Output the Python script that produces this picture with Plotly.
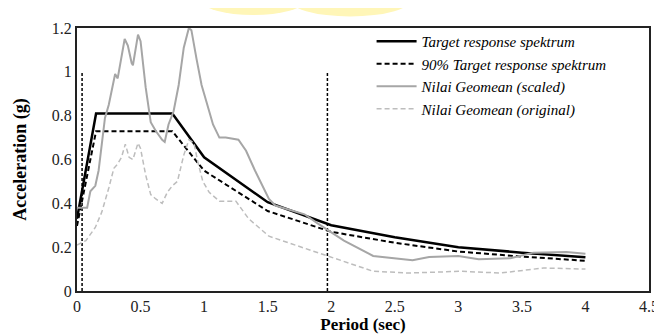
import plotly.graph_objects as go

# Target response spectrum
target_T = [0.0, 0.15, 0.75, 1.0, 1.5, 2.0, 2.5, 3.0, 3.5, 4.0]
target_SA = [0.33, 0.81, 0.81, 0.61, 0.405, 0.30, 0.245, 0.20, 0.175, 0.154]

# 90% target
target90_SA = [0.297, 0.729, 0.729, 0.549, 0.365, 0.27, 0.22, 0.18, 0.157, 0.138]

# Geomean scaled
scaled_T = [0.0, 0.08, 0.105, 0.144, 0.17, 0.22, 0.25, 0.30, 0.32, 0.34, 0.375, 0.40, 0.43, 0.44,
            0.48, 0.50, 0.54, 0.58, 0.62, 0.67, 0.69, 0.72, 0.76, 0.80, 0.84, 0.88, 0.90, 0.94,
            0.98, 1.02, 1.07, 1.12, 1.17, 1.27, 1.33, 1.40, 1.48, 1.51, 1.56, 1.79, 1.89, 1.97,
            2.10, 2.33, 2.64, 2.77, 3.0, 3.16, 3.41, 3.59, 3.85, 4.0]
scaled_SA = [0.38, 0.38, 0.455, 0.48, 0.55, 0.79, 0.85, 0.99, 0.97, 1.03, 1.15, 1.12, 1.04, 1.03,
             1.17, 1.14, 0.93, 0.77, 0.73, 0.69, 0.68, 0.76, 0.82, 0.94, 1.11, 1.20, 1.19, 1.06,
             0.94, 0.86, 0.76, 0.70, 0.70, 0.69, 0.64, 0.55, 0.46, 0.42, 0.39, 0.35, 0.31, 0.28,
             0.23, 0.16, 0.14, 0.155, 0.16, 0.145, 0.15, 0.175, 0.178, 0.17]

# Geomean original
orig_T = [0.0, 0.07, 0.144, 0.195, 0.25, 0.29, 0.32, 0.35, 0.38, 0.41, 0.44, 0.48, 0.50, 0.54,
          0.58, 0.62, 0.67, 0.71, 0.75, 0.79, 0.84, 0.88, 0.92, 0.95, 0.99, 1.04, 1.12, 1.25,
          1.35, 1.51, 1.74, 1.97, 2.33, 2.61, 3.02, 3.33, 3.67, 4.0]
orig_SA = [0.21, 0.23, 0.29, 0.36, 0.47, 0.56, 0.58, 0.61, 0.67, 0.61, 0.60, 0.675, 0.65, 0.53,
           0.44, 0.42, 0.40, 0.45, 0.48, 0.50, 0.62, 0.69, 0.675, 0.59, 0.50, 0.45, 0.41, 0.41,
           0.33, 0.25, 0.205, 0.16, 0.09, 0.082, 0.09, 0.082, 0.105, 0.10]

# Period range markers
range_T = [0.04, 1.97]
range_top = 1.0

x_ticks = [0, 0.5, 1, 1.5, 2, 2.5, 3, 3.5, 4, 4.5]
y_ticks = [0, 0.2, 0.4, 0.6, 0.8, 1.0, 1.2]

FONT = "Times New Roman, Liberation Serif, DejaVu Serif, serif"

fig = go.Figure()

for t in range_T:
    fig.add_trace(go.Scatter(x=[t, t], y=[0, range_top], mode="lines",
                             line=dict(color="black", width=1.5, dash="3px,2px"),
                             showlegend=False, hoverinfo="skip"))

fig.add_trace(go.Scatter(x=target_T, y=target_SA, mode="lines",
                         name="Target response spektrum",
                         line=dict(color="black", width=2.5)))
fig.add_trace(go.Scatter(x=target_T, y=target90_SA, mode="lines",
                         name="90% Target response spektrum",
                         line=dict(color="black", width=2, dash="5px,3px")))
fig.add_trace(go.Scatter(x=scaled_T, y=scaled_SA, mode="lines",
                         name="Nilai Geomean (scaled)",
                         line=dict(color="#a6a6a6", width=2)))
fig.add_trace(go.Scatter(x=orig_T, y=orig_SA, mode="lines",
                         name="Nilai Geomean (original)",
                         line=dict(color="#bdbdbd", width=1.5, dash="5px,3px")))

fig.update_layout(
    width=662, height=334,
    margin=dict(l=68, r=11, t=20, b=51),
    paper_bgcolor="white", plot_bgcolor="white",
    font=dict(family=FONT, size=16, color="black"),
    legend=dict(x=0.515, y=1.011, xanchor="left", yanchor="top",
                bgcolor="rgba(0,0,0,0)", borderwidth=0,
                font=dict(family=FONT, size=15, color="black", style="italic"),
                tracegroupgap=0, itemwidth=40),
    shapes=[
        dict(type="circle", xref="paper", yref="paper", layer="below",
             x0=(195 - 68) / 583, x1=(300 - 68) / 583,
             y0=(283 + 22) / 263, y1=(283 - 7) / 263,
             fillcolor="#fff6b8", line_width=0),
        dict(type="circle", xref="paper", yref="paper", layer="below",
             x0=(283 - 68) / 583, x1=(410 - 68) / 583,
             y0=(283 + 28) / 263, y1=(283 - 8.5) / 263,
             fillcolor="#fff6b8", line_width=0),
    ],
)

fig.update_xaxes(range=[0, 4.5], tickvals=x_ticks, ticktext=[f"{v:g}" for v in x_ticks],
                 showgrid=False, zeroline=False,
                 showline=True, linecolor="#222", linewidth=2, mirror=True,
                 ticks="", tickfont=dict(family=FONT, size=16, color="#222"),
                 title=dict(text="<b>Period (sec)</b>", font=dict(family=FONT, size=17),
                            standoff=2))
fig.update_yaxes(range=[0, 1.2], tickvals=y_ticks, ticktext=[f"{v:g}" for v in y_ticks],
                 showgrid=False, zeroline=False,
                 showline=True, linecolor="#222", linewidth=2, mirror=True,
                 ticks="", tickfont=dict(family=FONT, size=16, color="#222"),
                 title=dict(text="<b>Acceleration (g)</b>", font=dict(family=FONT, size=18),
                            standoff=20))

fig.write_html("out.html")
